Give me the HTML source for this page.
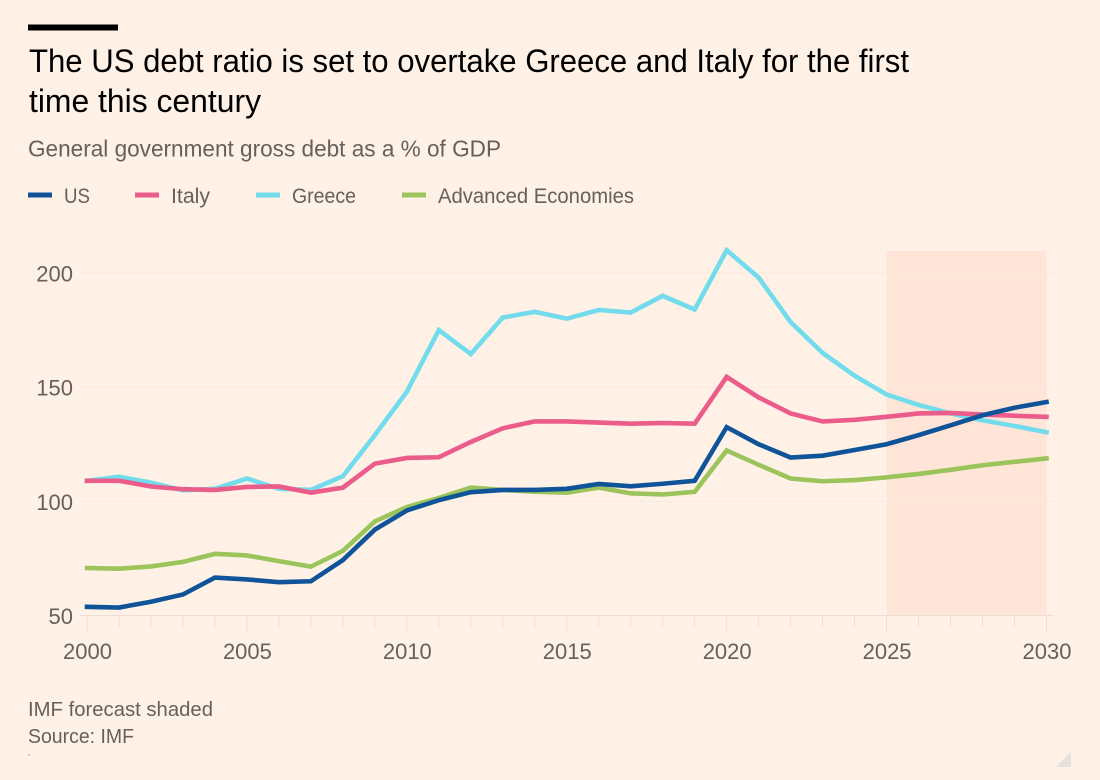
<!DOCTYPE html>
<html lang="en">
<head>
<meta charset="utf-8">
<title>US debt ratio chart</title>
<style>
html,body{margin:0;padding:0;background:#fff1e5;}
svg{display:block;font-family:"Liberation Sans",sans-serif;}
</style>
</head>
<body>
<svg id="chart" xmlns="http://www.w3.org/2000/svg" width="1100" height="780" viewBox="0 0 1100 780">
  <rect x="0" y="0" width="1100" height="780" fill="#fff1e5"/>
  <rect x="28" y="24.5" width="90" height="6" fill="#000"/>
  <text x="29" y="72" font-size="32" fill="#000" textLength="880" lengthAdjust="spacingAndGlyphs">The US debt ratio is set to overtake Greece and Italy for the first</text>
  <text x="29" y="112" font-size="32" fill="#000" textLength="232" lengthAdjust="spacingAndGlyphs">time this century</text>
  <text x="28" y="156.5" font-size="23" fill="#66605c" textLength="473" lengthAdjust="spacingAndGlyphs">General government gross debt as a % of GDP</text>

  <g font-size="21.5" fill="#66605c">
    <rect x="28" y="192.5" width="24" height="5" fill="#0f5499"/>
    <text x="64" y="203" textLength="26" lengthAdjust="spacingAndGlyphs">US</text>
    <rect x="135" y="192.5" width="24" height="5" fill="#eb5c8a"/>
    <text x="171" y="203" textLength="39" lengthAdjust="spacingAndGlyphs">Italy</text>
    <rect x="256" y="192.5" width="24" height="5" fill="#72dcec"/>
    <text x="292" y="203" textLength="64" lengthAdjust="spacingAndGlyphs">Greece</text>
    <rect x="402" y="192.5" width="24" height="5" fill="#9cc45c"/>
    <text x="438" y="203" textLength="196" lengthAdjust="spacingAndGlyphs">Advanced Economies</text>
  </g>

  <g id="plot"></g>

  <text x="28" y="716" font-size="20.5" fill="#66605c" textLength="185" lengthAdjust="spacingAndGlyphs">IMF forecast shaded</text>
  <text x="28" y="743" font-size="20.5" fill="#66605c" textLength="106" lengthAdjust="spacingAndGlyphs">Source: IMF</text>
  <rect x="28.5" y="754" width="1" height="1.5" fill="#8a8480"/>
  <polygon points="1071,752 1071,767 1056,767" fill="#e4e0dc"/>
</svg>
<script>
var years = [2000,2001,2002,2003,2004,2005,2006,2007,2008,2009,2010,2011,2012,2013,2014,2015,2016,2017,2018,2019,2020,2021,2022,2023,2024,2025,2026,2027,2028,2029,2030];
var usValues = [53.8,53.5,56,59.2,66.6,65.8,64.6,65,74.3,87.6,96,100.5,104,105,105,105.5,107.6,106.6,107.7,109,132.5,125,119.2,120,122.5,125,129,133.3,137.7,141,143.5];
var italyValues = [109,109,106.5,105.3,105,106.3,106.5,103.8,106,116.5,119,119.3,126,132,135,135,134.5,134,134.3,134,154.5,145.5,138.5,135,135.7,137,138.5,138.7,138,137.5,137];
var greeceValues = [109,110.8,108.2,104.8,105.5,110,105.5,105,111,129,148,175,164.5,180.5,183,180,183.8,182.7,190,184,210,198,178.5,165,155,146.8,142.2,138.5,135.5,133,130.3];
var advancedValues = [70.8,70.5,71.5,73.5,77,76.3,73.8,71.4,78.3,91.2,97.5,101.5,106,105,104.2,103.8,106,103.5,103,104.2,122.3,116,110,108.8,109.3,110.5,112,113.8,115.8,117.3,118.8];
var yTickValues = [50,100,150,200];
var xTickLabels = [2000,2005,2010,2015,2020,2025,2030];
var forecastStartYear = 2025;
var forecastEndYear = 2030;

function xScale(year){ return 87 + (year - 2000) * (1046.5 - 87) / 30; }
function yScale(value){ return 615.5 - (value - 50) * (615.5 - 273) / 150; }

var NS = 'http://www.w3.org/2000/svg';
var plot = document.getElementById('plot');
function make(tag, attrs){
  var el = document.createElementNS(NS, tag);
  for (var k in attrs) { el.setAttribute(k, attrs[k]); }
  plot.appendChild(el);
  return el;
}

var shadeEl = make('rect', {x:xScale(forecastStartYear), y:251, width:xScale(forecastEndYear)-xScale(forecastStartYear), height:364.5, fill:'#fee5d7'});



yTickValues.forEach(function(v){
  var grid = make('line', {x1:80, x2:1054, y1:yScale(v), y2:yScale(v), stroke: v === 50 ? '#ebe0d7' : '#f6e9de', 'stroke-width':1});
  
  
  var label = make('text', {x:73, y:yScale(v)+8.5, 'text-anchor':'end', 'font-size':22, fill:'#66605c'});
  
  
  label.textContent = v;
});

years.forEach(function(y){
  var major = xTickLabels.indexOf(y) !== -1;
  var tick = make('line', {x1:xScale(y), x2:xScale(y), y1:616, y2: major ? 633 : 627, stroke:'#ebe0d7', 'stroke-width':1});
  
  
});

xTickLabels.forEach(function(y){
  var label = make('text', {x:xScale(y)+0.5, y:659, 'text-anchor':'middle', 'font-size':22, fill:'#66605c'});
  
  
  label.textContent = y;
});

function linePath(values){
  return values.map(function(v, i){
    return (i ? 'L' : 'M') + xScale(years[i]).toFixed(2) + ' ' + yScale(v).toFixed(2);
  }).join(' ');
}

var advancedLine = make('path', {d:linePath(advancedValues), fill:'none', stroke:'#9cc45c', 'stroke-width':4.6, 'stroke-linejoin':'miter', 'stroke-linecap':'square'});



var greeceLine = make('path', {d:linePath(greeceValues), fill:'none', stroke:'#72dcec', 'stroke-width':4.6, 'stroke-linejoin':'miter', 'stroke-linecap':'square'});



var italyLine = make('path', {d:linePath(italyValues), fill:'none', stroke:'#eb5c8a', 'stroke-width':4.6, 'stroke-linejoin':'miter', 'stroke-linecap':'square'});



var usLine = make('path', {d:linePath(usValues), fill:'none', stroke:'#0f5499', 'stroke-width':4.6, 'stroke-linejoin':'miter', 'stroke-linecap':'square'});


</script>
</body>
</html>
